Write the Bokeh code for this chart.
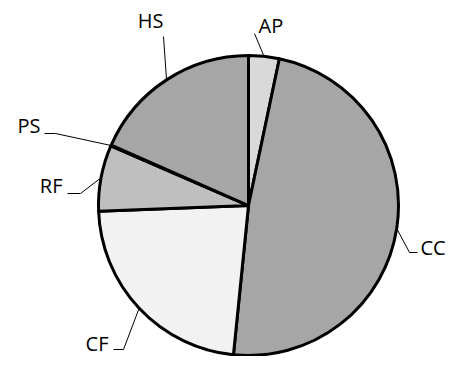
import math
from bokeh.plotting import figure
from bokeh.models import Range1d, ColumnDataSource
from bokeh.core.properties import value
from bokeh.embed import file_html
from bokeh.resources import INLINE

# ---- data ----
categories = ["AP", "CC", "CF", "RF", "PS", "HS"]
shares = [3.3, 48.3, 22.8, 7.1, 0.1, 18.4]
colors = ["#d9d9d9", "#a6a6a6", "#f2f2f2", "#bfbfbf", "#8c8c8c", "#a6a6a6"]

# ---- layout (pixel coordinates from the figure's top-left) ----
W, H = 448, 356
CX, CY, R = 248, 205, 150
TEXT_DY = 8  # compensation for the renderer's baseline offset
elbows = {"AP": None, "CC": (409, 252), "CF": (123, 349), "RF": (80, 193), "PS": (55, 133), "HS": None}
ends = {"AP": (254, 33), "CC": (417, 252), "CF": (113, 349), "RF": (67, 193), "PS": (44, 133), "HS": (163, 36)}
labels_at = {"AP": (258, 33, "left"), "CC": (420, 255, "left"), "CF": (108, 351, "right"),
             "RF": (62, 193, "right"), "PS": (40, 133, "right"), "HS": (163, 28, "right")}

def dy(y):
    return H - y

p = figure(width=W, height=H, output_backend="svg", toolbar_location=None,
           x_range=Range1d(0, W), y_range=Range1d(0, H), min_border=0)
p.axis.visible = False
p.grid.visible = False
p.outline_line_color = None
p.background_fill_color = "white"

total = sum(shares)
starts, endsA, mids = [], [], []
cum = 0.0
for s in shares:
    a0 = math.pi / 2 - cum / total * 2 * math.pi
    cum += s
    a1 = math.pi / 2 - cum / total * 2 * math.pi
    starts.append(a0)
    endsA.append(a1)
    mids.append((a0 + a1) / 2)

src = ColumnDataSource(dict(start=starts, end=endsA, color=colors, cat=categories))
p.wedge(x=CX, y=dy(CY), radius=R, start_angle="start", end_angle="end", direction="clock",
        fill_color="color", line_color="black", line_width=3, source=src)

xs, ys = [], []
for cat, m in zip(categories, mids):
    ex = CX + R * math.cos(m)
    ey = dy(CY) + R * math.sin(m)
    lx, ly = [ex], [ey]
    if elbows[cat] is not None:
        lx.append(elbows[cat][0]); ly.append(dy(elbows[cat][1]))
    lx.append(ends[cat][0]); ly.append(dy(ends[cat][1]))
    xs.append(lx); ys.append(ly)
p.multi_line(xs=xs, ys=ys, line_color="black", line_width=1)

for cat in categories:
    tx, ty, al = labels_at[cat]
    p.text(x=[tx], y=[dy(ty - TEXT_DY)], text=[cat], text_align=al, text_baseline="alphabetic",
           text_font=value("Open Sans"), text_font_size="20px", text_color="black")

open("out.html", "w").write(file_html(p, INLINE))
